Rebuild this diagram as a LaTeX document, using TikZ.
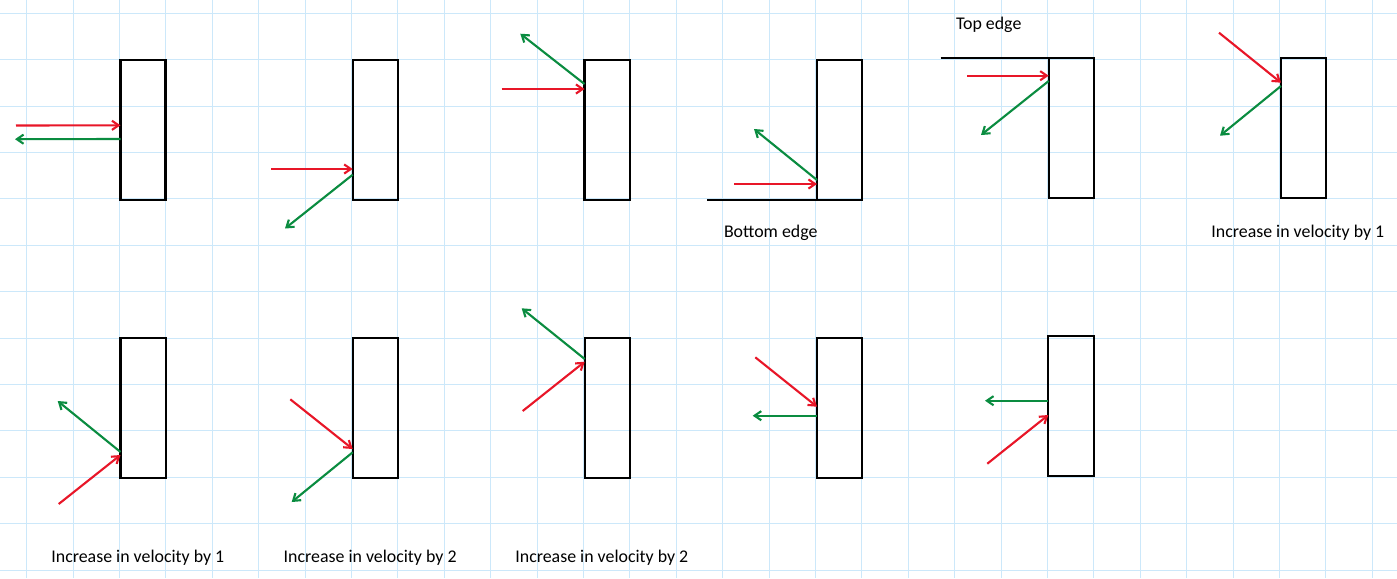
\documentclass[tikz,border=0pt]{standalone}
\usepackage{fontspec}
\setmainfont{Carlito}
\usetikzlibrary{arrows.meta}
\definecolor{gridblue}{RGB}{204,232,250}
\definecolor{arrred}{RGB}{232,22,40}
\definecolor{arrgreen}{RGB}{10,140,64}
\tikzset{
  gridline/.style={draw=gridblue, line width=0.32pt},
  wall/.style={draw=black, line width=0.65pt},
  edgeline/.style={draw=black, line width=0.65pt},
  inarrow/.style={draw=arrred, line width=0.6pt, -{Straight Barb[length=1.9pt,width=2.6pt,line width=0.6pt]}},
  outarrow/.style={draw=arrgreen, line width=0.6pt, -{Straight Barb[length=1.9pt,width=2.6pt,line width=0.6pt]}},
  caption/.style={anchor=base west, inner sep=0pt, font=\fontsize{5.08}{6}\selectfont},
}
\begin{document}
\begin{tikzpicture}[x=0.01cm, y=-0.01cm]
\fill[white] (0,0) rectangle (1397,578);
\useasboundingbox (0,0) rectangle (1397,578);
% grid
\foreach \k in {0,...,29} {\draw[gridline] ({26.7+46.4*\k},0) -- ({26.7+46.4*\k},578);}
\foreach \k in {0,...,12} {\draw[gridline] (0,{13.3+46.4*\k}) -- (1397,{13.3+46.4*\k});}

% ---------- top row ----------
% 1
\draw[wall] (120.5,60) rectangle (165.5,199.7);
\coordinate (a1s) at (16,125.5); \coordinate (a1e) at (120.5,125.3);
\coordinate (g1s) at (120.5,139); \coordinate (g1e) at (15,139.2);
\draw[inarrow] (a1s) -- (a1e);
\draw[outarrow] (g1s) -- (g1e);
% 2
\draw[wall] (352.7,60.3) rectangle (398,200);
\coordinate (a2s) at (271,169); \coordinate (a2e) at (352.7,169);
\coordinate (g2s) at (352.7,174.7); \coordinate (g2e) at (285,228.5);
\draw[inarrow] (a2s) -- (a2e);
\draw[outarrow] (g2s) -- (g2e);
% 3
\draw[wall] (584.5,60.3) rectangle (629.7,200);
\coordinate (a3s) at (501.7,89); \coordinate (a3e) at (584.5,89);
\coordinate (g3s) at (584.5,84); \coordinate (g3e) at (520.3,33.7);
\draw[inarrow] (a3s) -- (a3e);
\draw[outarrow] (g3s) -- (g3e);
% 4 bottom edge
\draw[wall] (817,60.3) rectangle (862,200);
\coordinate (be1) at (707.3,200); \coordinate (be2) at (817,200);
\draw[edgeline] (be1) -- (be2);
\coordinate (a4s) at (734.3,184); \coordinate (a4e) at (817,184);
\coordinate (g4s) at (817,180); \coordinate (g4e) at (754,129);
\draw[inarrow] (a4s) -- (a4e);
\draw[outarrow] (g4s) -- (g4e);
\node[caption] (lb) at (723.3,237.7) {Bottom edge};
% 5 top edge
\draw[wall] (1048.7,58.3) rectangle (1094,198);
\coordinate (te1) at (940.7,58.3); \coordinate (te2) at (1048.7,58.3);
\draw[edgeline] (te1) -- (te2);
\coordinate (a5s) at (967.3,75.7); \coordinate (a5e) at (1048.7,75.7);
\coordinate (g5s) at (1048.7,81); \coordinate (g5e) at (981,135);
\draw[inarrow] (a5s) -- (a5e);
\draw[outarrow] (g5s) -- (g5e);
\node[caption] (lt) at (955.3,29.3) {Top edge};
% 6
\draw[wall] (1281,58.3) rectangle (1326.3,198);
\coordinate (a6s) at (1219,32.7); \coordinate (a6e) at (1281,82.7);
\coordinate (g6s) at (1281,86); \coordinate (g6e) at (1220,135.7);
\draw[inarrow] (a6s) -- (a6e);
\draw[outarrow] (g6s) -- (g6e);
\node[caption] (l6) at (1210.7,237.7) {Increase in velocity by 1};

% ---------- bottom row ----------
% 7
\draw[wall] (120.5,338.3) rectangle (165.7,478);
\coordinate (a7s) at (58.7,504); \coordinate (a7e) at (120.5,455);
\coordinate (g7s) at (120.5,452); \coordinate (g7e) at (57.7,401);
\draw[inarrow] (a7s) -- (a7e);
\draw[outarrow] (g7s) -- (g7e);
\node[caption] (l7) at (50.7,562.5) {Increase in velocity by 1};
% 8
\draw[wall] (352.7,338.3) rectangle (397.7,478);
\coordinate (a8s) at (290.3,399.3); \coordinate (a8e) at (352.7,449);
\coordinate (g8s) at (352.7,452.3); \coordinate (g8e) at (291.7,502);
\draw[inarrow] (a8s) -- (a8e);
\draw[outarrow] (g8s) -- (g8e);
\node[caption] (l8) at (283,562.5) {Increase in velocity by 2};
% 9
\draw[wall] (584.7,338.3) rectangle (629.7,478);
\coordinate (a9s) at (522.7,411); \coordinate (a9e) at (584.7,361.7);
\coordinate (g9s) at (584.7,359); \coordinate (g9e) at (521.7,308.3);
\draw[inarrow] (a9s) -- (a9e);
\draw[outarrow] (g9s) -- (g9e);
\node[caption] (l9) at (514.7,562.5) {Increase in velocity by 2};
% 10
\draw[wall] (817,338.3) rectangle (862,478);
\coordinate (a10s) at (755.3,357.3); \coordinate (a10e) at (817,406.7);
\coordinate (g10s) at (817,415.7); \coordinate (g10e) at (752.7,415.7);
\draw[inarrow] (a10s) -- (a10e);
\draw[outarrow] (g10s) -- (g10e);
% 11
\draw[wall] (1048.3,335.7) rectangle (1094,476);
\coordinate (a11s) at (987.3,463.7); \coordinate (a11e) at (1048.3,415);
\coordinate (g11s) at (1048.3,400.7); \coordinate (g11e) at (985,400.7);
\draw[inarrow] (a11s) -- (a11e);
\draw[outarrow] (g11s) -- (g11e);
\end{tikzpicture}
\end{document}
